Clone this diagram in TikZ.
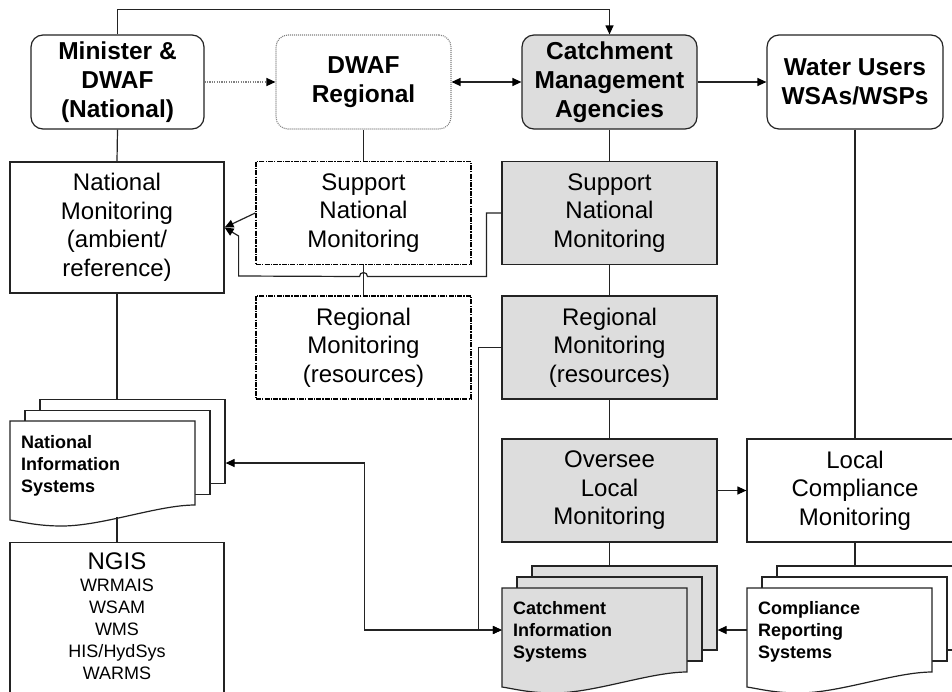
\documentclass[tikz,border=0pt]{standalone}
\usepackage{fontspec}
\setmainfont{Liberation Sans}
\usetikzlibrary{arrows.meta,calc}
\definecolor{boxgray}{RGB}{221,221,221}
\definecolor{linec}{RGB}{35,35,35}
\tikzset{
  basebox/.style={draw=linec, line width=1.2pt, inner sep=0pt, align=center, text=black},
  hdr/.style={basebox, rounded corners=12pt, font=\bfseries\fontsize{24.5}{29}\selectfont, minimum height=94pt},
  mbox/.style={basebox, font=\fontsize{24}{28.5}\selectfont, minimum width=215pt, minimum height=103pt},
  dregbox/.style={hdr, draw=gray, dash pattern=on 1pt off 1pt, line width=1.1pt},
  dashbox/.style={mbox, draw=black, line width=1.5pt, dash pattern=on 5pt off 1.2pt on 1.2pt off 1.2pt},
  backdoc/.style={basebox, minimum width=185pt, minimum height=84pt},
  docarea/.style={inner sep=0pt, minimum width=185pt, minimum height=84pt},
  doctext/.style={inner sep=0pt, align=left, anchor=north west, font=\bfseries\fontsize{18}{22}\selectfont},
  conn/.style={draw=linec, line width=1.2pt},
  arr/.style={conn, -{Triangle[length=9pt,width=8pt,color=black]}},
  darr/.style={conn, {Triangle[length=9pt,width=8pt,color=black]}-{Triangle[length=9pt,width=8pt,color=black]}},
}
\newcommand\docfrontshape[5]{%
  \path[draw=linec, line width=1.2pt, fill=#5] (#1,#2) -- (#3,#2) -- (#3,#4)
    .. controls ({#3-0.2*(#3-#1)},#4) and ({#1+0.5*(#3-#1)},#4+21) .. ({#1+0.28*(#3-#1)},#4+21)
    .. controls ({#1+0.15*(#3-#1)},#4+21) and ({#1+0.07*(#3-#1)},#4+17) .. (#1,#4+15) -- cycle;}
\begin{document}
\begin{tikzpicture}[x=1pt,y=-1pt]
\useasboundingbox (0,0) rectangle (952,691);
\clip (0,0) rectangle (952,691);
\fill[white] (0,0) rectangle (952,691);

% header row
\node[hdr, minimum width=173pt] (min) at (117.5,82) {Minister \&\\DWAF\\(National)};
\node[dregbox, minimum width=175pt] (dreg) at (363.5,82) {DWAF\\Regional};
\node[hdr, fill=boxgray, minimum width=175pt] (cma) at (609.5,82) {Catchment\\Management\\Agencies};
\node[hdr, minimum width=176pt] (wu) at (855,82) {Water Users\\WSAs/WSPs};

% monitoring boxes
\node[mbox, minimum width=214pt, minimum height=131pt] (nm) at (117,227.5) {National\\Monitoring\\(ambient/\\reference)};
\node[dashbox] (snm) at (363.5,213) {Support\\National\\Monitoring};
\node[dashbox] (rm) at (363.5,347.5) {Regional\\Monitoring\\(resources)};
\node[mbox, fill=boxgray] (csnm) at (609.5,213) {Support\\National\\Monitoring};
\node[mbox, fill=boxgray] (crm) at (609.5,347.5) {Regional\\Monitoring\\(resources)};
\node[mbox, fill=boxgray] (olm) at (609.5,490.5) {Oversee\\Local\\Monitoring};
\node[mbox, minimum width=216pt] (lcm) at (855,490.5) {Local\\Compliance\\Monitoring};

% national information systems
\node[backdoc, fill=white] (nis3) at (132.5,441.5) {};
\node[backdoc, fill=white] (nis2) at (117.5,452.5) {};
\docfrontshape{10}{421}{195}{505}{white}
\node[docarea] (nisf) at (102.5,463) {};
\node[doctext] (nist) at (21,435) {National\\Information\\Systems};

% NGIS
\node[basebox, minimum width=214pt, minimum height=200pt, anchor=north] (ngis) at (117,542) {};
\node[inner sep=0pt, align=center, anchor=north, font=\fontsize{18}{22}\selectfont] (ngistxt) at (117,553)
  {{\fontsize{24}{22}\selectfont NGIS}\\WRMAIS\\WSAM\\WMS\\HIS/HydSys\\WARMS};

% catchment information systems
\node[backdoc, fill=boxgray] (cis3) at (624.5,608) {};
\node[backdoc, fill=boxgray] (cis2) at (609.5,619) {};
\docfrontshape{502}{588}{687}{672}{boxgray}
\node[docarea] (cisf) at (594.5,630) {};
\node[doctext] (cist) at (513,601) {Catchment\\Information\\Systems};

% compliance reporting systems
\node[backdoc, fill=white] (crs3) at (869.5,608) {};
\node[backdoc, fill=white] (crs2) at (854.5,619) {};
\docfrontshape{747}{588}{932}{672}{white}
\node[docarea] (crsf) at (839.5,630) {};
\node[doctext] (crst) at (758,601) {Compliance\\Reporting\\Systems};

% connectors
\draw[arr] (min.north) -- ++(0,-25) -| (cma.north);
\draw[conn, draw=gray, dash pattern=on 1.2pt off 1.2pt, -{Triangle[length=9pt,width=8pt,color=black]}] (min.east) -- (dreg.west);
\draw[darr] (dreg.east) -- (cma.west);
\draw[arr] (cma.east) -- (wu.west);

\draw[conn] (min.south) -- (nm.north);
\draw[conn] (dreg.south) -- (snm.north);
\draw[conn] (cma.south) -- (csnm.north);
\draw[conn] (csnm.south) -- (crm.north);
\draw[conn] (crm.south) -- (olm.north);
\draw[conn] (wu.south) -- (lcm.north);
\draw[conn] (olm.south) -- (olm.south |- cis3.north);
\draw[conn] (lcm.south) -- (lcm.south |- crs3.north);
\draw[conn] (nm.south) -- (nm.south |- nis3.north);
\draw[conn] (ngis.north) -- ++(0,-25);

\draw[conn] (snm.south) -- (rm.north);
\coordinate (hop) at ($(snm.south)!0.375!(rm.north)$);
\coordinate (nmj) at ($(nm.east)+(14,48.5)$);
\draw[arr] (snm.west) -- (nm.east);
\draw[arr] (csnm.west) -- ++(-15,0) |- ([xshift=4pt]hop) arc[start angle=0,end angle=180,radius=4pt] -- (nmj) -- ++(0,-40) -- (nm.east);

\draw[arr] (crm.west) -- ++(-23,0) |- (cisf.west);
\coordinate (nisin) at ($(nis3.east)+(0,21.5)$);
\draw[darr] (nisin) -- ($(nisin)+(139,0)$) |- (cisf.west);
\draw[arr] (crsf.west) -- (cis3.east |- crsf.west);
\draw[arr] (olm.east) -- (lcm.west);
\end{tikzpicture}
\end{document}
